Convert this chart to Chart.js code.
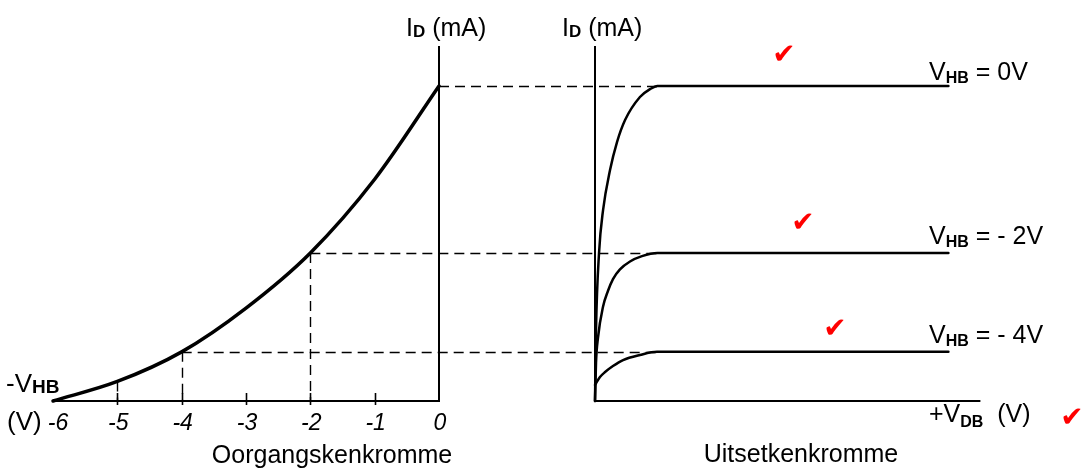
<!DOCTYPE html>
<html><head><meta charset="utf-8">
<script src="https://cdn.jsdelivr.net/npm/chart.js@4/dist/chart.umd.min.js"></script>
<style>html,body{margin:0;padding:0;background:#fff;overflow:hidden}canvas{display:block}</style>
</head><body>
<canvas id="c" width="1086" height="469"></canvas>
<script>
// ---- Transfer characteristic (Oorgangskenkromme): -V_HB (V) vs I_D (mA)
const vgsValues   = [-6, -5, -4, -3, -2, -1, 0];
const idTransfer  = [0, 0.62, 1.56, 2.95, 4.7, 7.04, 10];
const vgsTickLabels = ['-6', '-5', '-4', '-3', '-2', '-1', '0'];

// ---- Output characteristic (Uitsetkenkromme): +V_DB (V) vs I_D (mA)
const vdsCurve0 = [0, 0.065, 0.26, 0.52, 0.97, 1.42, 1.94, 2.9, 3.55, 4.03, 22.8];
const idCurve0  = [0, 2.25, 4.7, 6.06, 7.33, 8.22, 8.92, 9.65, 9.9, 10, 10];
const vdsCurve2 = [0, 0.065, 0.19, 0.52, 0.84, 1.16, 1.61, 2.26, 3.03, 4.03, 22.8];
const idCurve2  = [0, 1.21, 2.0, 3.0, 3.5, 3.87, 4.18, 4.43, 4.6, 4.7, 4.7];
const vdsCurve4 = [0, 0.32, 0.65, 1.16, 1.81, 2.9, 4.0, 22.8];
const idCurve4  = [0.51, 0.76, 0.92, 1.11, 1.30, 1.46, 1.56, 1.56];
const curveLabels = ['= 0V', '= - 2V', '= - 4V'];
const curveLevels = [10, 4.7, 1.56];

// projection guides
const guideVgs  = [0, -2, -4];
const guideId   = [10, 4.7, 1.56];
const dropVgs   = [-5, -4, -2];
const dropId    = [0.62, 1.56, 4.7];
const vdsKnee   = 4.03;
const vdsAxisEnd = 24.8;
const idAxisTop = 11.24;

const pts = (xs, ys) => xs.map((x, i) => ({ x, y: ys[i] }));

// scale placement (pixels per unit / origin) – layout only
const W = 1086, H = 469;
const leftOriginPx = 439, leftUnitPx = 64.33;
const rightOriginPx = 595, rightUnitPx = 15.5;
const yOriginPx = 401, yUnitPx = 31.5;

const FONT = '"Liberation Sans", Arial, sans-serif';

function chain(ctx, x, y, parts) {
  parts.forEach(p => {
    ctx.font = p.f;
    ctx.fillText(p.t, x, y + (p.dy || 0));
    x += ctx.measureText(p.t).width;
  });
}

const overlay = {
  id: 'overlay',
  beforeDatasetsDraw(chart) {
    const { ctx, scales: { x, x2, y } } = chart;
    ctx.save();
    ctx.strokeStyle = '#000';
    ctx.lineWidth = 1.4;
    ctx.setLineDash([10, 6]);
    guideVgs.forEach((v, i) => {
      const py = Math.round(y.getPixelForValue(guideId[i])) + 0.5;
      ctx.beginPath();
      ctx.moveTo(x.getPixelForValue(v), py);
      ctx.lineTo(x2.getPixelForValue(vdsKnee), py);
      ctx.stroke();
    });
    dropVgs.forEach((v, i) => {
      const px = Math.round(x.getPixelForValue(v)) + 0.5;
      ctx.beginPath();
      ctx.moveTo(px, y.getPixelForValue(dropId[i]));
      ctx.lineTo(px, y.getPixelForValue(0));
      ctx.stroke();
    });
    ctx.setLineDash([]);
    // small tick marks on the V_HB axis
    const y0 = y.getPixelForValue(0);
    ctx.lineWidth = 1.6;
    vgsValues.slice(1, -1).forEach(v => {
      const px = Math.round(x.getPixelForValue(v)) + 0.5;
      ctx.beginPath();
      ctx.moveTo(px, y0 - 8);
      ctx.lineTo(px, y0 + 4);
      ctx.stroke();
    });
    ctx.restore();
  },
  afterDatasetsDraw(chart) {
    const { ctx, scales: { x, x2, y } } = chart;
    ctx.save();
    ctx.fillStyle = '#000';
    ctx.textBaseline = 'alphabetic';
    ctx.textAlign = 'left';
    const y0 = y.getPixelForValue(0);
    // tick labels
    ctx.font = 'italic 23px ' + FONT;
    ctx.textAlign = 'center';
    vgsValues.forEach((v, i) => {
      ctx.fillText(vgsTickLabels[i], x.getPixelForValue(v) + (i === 0 ? 5 : 1), y0 + 29);
    });
    ctx.textAlign = 'left';
    // axis titles
    const big = '25px ' + FONT, sub = 'bold 16px ' + FONT;
    const topY = y.getPixelForValue(idAxisTop) - 11;
    [x.getPixelForValue(0), x2.getPixelForValue(0)].forEach(ax => {
      chain(ctx, ax - 33, topY, [{ t: 'I', f: big }, { t: 'D', f: 'bold 17px ' + FONT, dy: 1 }, { t: ' (mA)', f: big }]);
    });
    chain(ctx, 6, y0 - 9, [{ t: '-V', f: '26px ' + FONT }, { t: 'HB', f: 'bold 19px ' + FONT, dy: 1 }]);
    ctx.font = '26px ' + FONT;
    ctx.fillText('(V)', 7, y0 + 29);
    chain(ctx, 929, y0 + 21, [{ t: '+V', f: big }, { t: 'DB', f: sub, dy: 5 }, { t: '  (V)', f: big }]);
    ctx.textAlign = 'center';
    ctx.font = big;
    ctx.fillText('Oorgangskenkromme', 332, 463);
    ctx.fillText('Uitsetkenkromme', 801, 462);
    ctx.textAlign = 'left';
    // curve labels
    curveLabels.forEach((lab, i) => {
      const py = y.getPixelForValue(curveLevels[i]) - (i === 0 ? 6 : 9);
      chain(ctx, 929, py, [{ t: 'V', f: big }, { t: 'HB', f: sub, dy: 3 }, { t: ' ' + lab, f: big }]);
    });
    // red check marks
    ctx.fillStyle = '#ff0000';
    ctx.font = '28px "DejaVu Sans", sans-serif';
    ctx.textAlign = 'center';
    ctx.textBaseline = 'middle';
    [[784, 56], [803, 224], [835, 330], [1072, 419]].forEach(([cx, cy]) => ctx.fillText('\u2714', cx, cy));
    ctx.restore();
  }
};

const lineDs = (data, xAxisID, width) => ({
  data, xAxisID, yAxisID: 'y',
  borderColor: '#000', borderWidth: width, pointRadius: 0,
  fill: false, cubicInterpolationMode: 'monotone', borderJoinStyle: 'round', borderCapStyle: 'round'
});
const axisDs = (data, xAxisID) => ({
  data, xAxisID, yAxisID: 'y',
  borderColor: '#000', borderWidth: 2, pointRadius: 0, fill: false, tension: 0, borderCapStyle: 'square'
});

new Chart(document.getElementById('c'), {
  type: 'line',
  data: {
    datasets: [
      axisDs(pts([vgsValues[0], 0], [0, 0]), 'x'),
      axisDs(pts([0, 0], [0, idAxisTop]), 'x'),
      axisDs(pts([0, vdsAxisEnd], [0, 0]), 'x2'),
      axisDs(pts([0, 0], [0, idAxisTop]), 'x2'),
      lineDs(pts(vgsValues, idTransfer), 'x', 3.5),
      lineDs(pts(vdsCurve0, idCurve0), 'x2', 2.5),
      lineDs(pts(vdsCurve2, idCurve2), 'x2', 2.5),
      lineDs(pts(vdsCurve4, idCurve4), 'x2', 2.5)
    ]
  },
  options: {
    responsive: false, animation: false, devicePixelRatio: 1,
    layout: { padding: 0 },
    plugins: { legend: { display: false }, tooltip: { enabled: false } },
    scales: {
      x:  { type: 'linear', display: false, min: -leftOriginPx / leftUnitPx, max: (W - leftOriginPx) / leftUnitPx },
      x2: { type: 'linear', display: false, min: -rightOriginPx / rightUnitPx, max: (W - rightOriginPx) / rightUnitPx },
      y:  { type: 'linear', display: false, min: -(H - yOriginPx) / yUnitPx, max: yOriginPx / yUnitPx }
    }
  },
  plugins: [overlay]
});
</script>
</body></html>
